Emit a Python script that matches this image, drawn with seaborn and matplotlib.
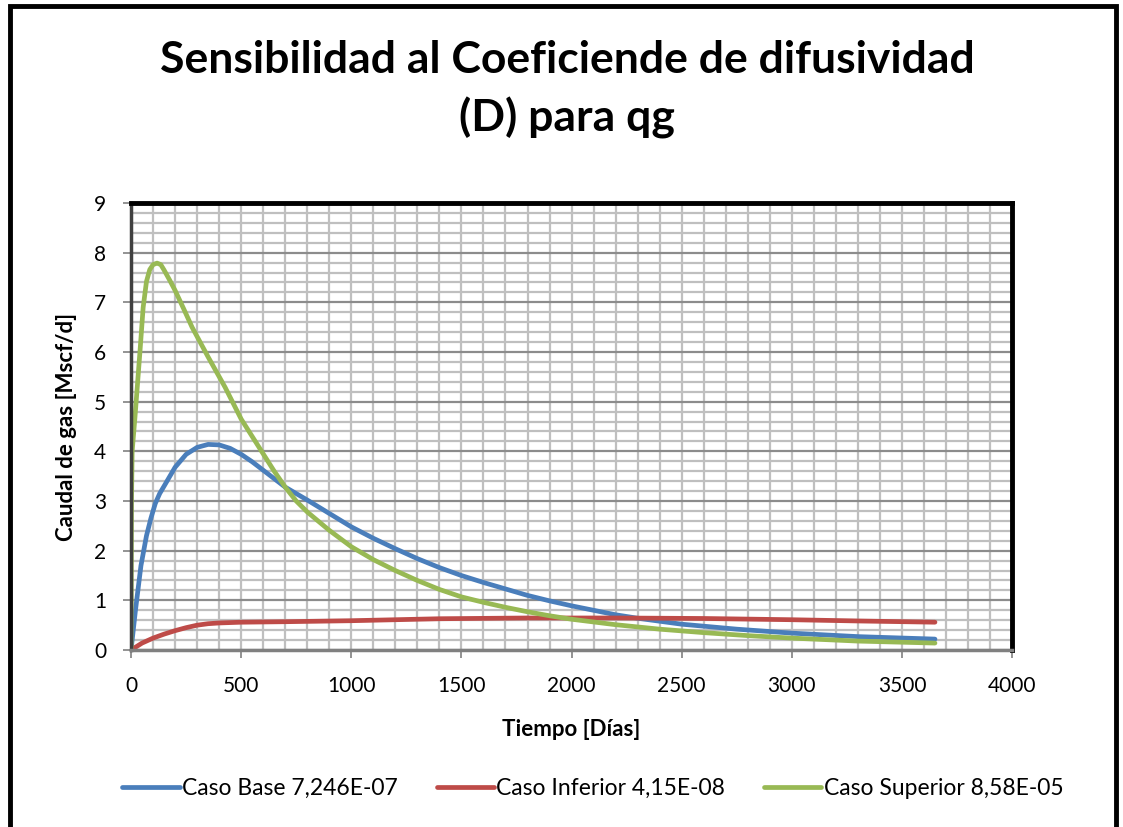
import pandas as pd
import matplotlib.pyplot as plt
import seaborn as sns
from matplotlib.ticker import MultipleLocator
from matplotlib.patches import Rectangle

# Caso Base 7,246E-07
base_days = [0, 20, 45, 70, 90, 110, 130, 150, 200, 250, 300, 350, 400, 450, 500, 550,
             600, 700, 800, 900, 1000, 1100, 1200, 1300, 1400, 1500, 1600, 1700, 1800,
             1900, 2000, 2100, 2200, 2300, 2400, 2500, 2750, 3000, 3300, 3650]
base_q = [0.0, 0.8, 1.7, 2.3, 2.65, 2.95, 3.15, 3.3, 3.68, 3.94, 4.08, 4.14, 4.13, 4.06,
          3.94, 3.79, 3.62, 3.28, 3.02, 2.75, 2.48, 2.25, 2.04, 1.84, 1.66, 1.5, 1.36,
          1.23, 1.1, 0.99, 0.89, 0.8, 0.71, 0.64, 0.58, 0.52, 0.42, 0.34, 0.27, 0.22]

# Caso Inferior 4,15E-08
inf_days = [0, 25, 50, 100, 150, 200, 250, 300, 350, 400, 500, 700, 1000, 1400, 1800,
            2200, 2600, 3000, 3300, 3650]
inf_q = [0.0, 0.07, 0.14, 0.24, 0.32, 0.39, 0.45, 0.5, 0.53, 0.545, 0.56, 0.57, 0.59,
         0.63, 0.645, 0.645, 0.635, 0.61, 0.585, 0.56]

# Caso Superior 8,58E-05
sup_days = [0, 2, 5, 18, 41, 55, 70, 85, 100, 118, 135, 150, 175, 200, 240, 277, 350,
            427, 500, 550, 600, 650, 700, 750, 800, 900, 1000, 1100, 1200, 1300, 1400,
            1500, 1600, 1700, 1800, 1900, 2000, 2200, 2400, 2600, 2800, 3000, 3300, 3650]
sup_q = [0.0, 3.0, 4.0, 4.7, 6.04, 6.9, 7.42, 7.66, 7.76, 7.79, 7.76, 7.65, 7.45, 7.24,
         6.86, 6.5, 5.9, 5.29, 4.65, 4.3, 3.95, 3.6, 3.28, 3.0, 2.78, 2.41, 2.08, 1.82,
         1.6, 1.4, 1.22, 1.07, 0.96, 0.86, 0.77, 0.69, 0.62, 0.51, 0.42, 0.35, 0.29,
         0.24, 0.18, 0.14]

labels = ["Caso Base 7,246E-07", "Caso Inferior 4,15E-08", "Caso Superior 8,58E-05"]
colors = ["#4A7EBB", "#BE4B48", "#98B954"]

frames = []
for lab, d, q in zip(labels, [base_days, inf_days, sup_days], [base_q, inf_q, sup_q]):
    frames.append(pd.DataFrame({"dias": d, "qg": q, "caso": lab}))
df = pd.concat(frames, ignore_index=True)

sns.set_style("white")
plt.rcParams['font.family'] = ['Lato', 'DejaVu Sans']
plt.rcParams['text.color'] = 'black'
plt.rcParams['axes.labelcolor'] = 'black'
plt.rcParams['xtick.color'] = 'black'
plt.rcParams['ytick.color'] = 'black'

fig = plt.figure(figsize=(11.23, 8.27), dpi=100)
ax = fig.add_axes([0.1167, 0.214, 0.7845, 0.5405])

sns.lineplot(data=df, x="dias", y="qg", hue="caso", palette=dict(zip(labels, colors)),
             hue_order=labels, lw=3.4, sort=False, estimator=None, ax=ax,
             solid_capstyle='round', solid_joinstyle='round')

ax.set_xlim(0, 4000)
ax.set_ylim(0, 9)
ax.xaxis.set_major_locator(MultipleLocator(500))
ax.xaxis.set_minor_locator(MultipleLocator(100))
ax.yaxis.set_major_locator(MultipleLocator(1))
ax.yaxis.set_minor_locator(MultipleLocator(0.2))

ax.grid(which='minor', color='#BFBFBF', lw=1.6)
ax.grid(which='major', axis='x', color='#BFBFBF', lw=1.6)
ax.grid(which='major', axis='y', color='#8C8C8C', lw=1.6)
ax.set_axisbelow(True)

ax.tick_params(which='major', direction='out', length=6, width=1.2, color='#808080',
               labelsize=15, left=True, bottom=True)
ax.tick_params(axis='x', which='major', pad=13)
ax.tick_params(axis='y', which='major', pad=12)
ax.tick_params(which='minor', length=0)

ax.spines['top'].set_color('black')
ax.spines['top'].set_linewidth(3.5)
ax.spines['right'].set_color('black')
ax.spines['right'].set_linewidth(3.5)
ax.spines['left'].set_color('#404040')
ax.spines['left'].set_linewidth(2.5)
ax.spines['bottom'].set_color('#808080')
ax.spines['bottom'].set_linewidth(2.5)

ax.set_xlabel("Tiempo [Días]", fontsize=16, fontweight='bold', labelpad=16)
ax.set_ylabel("Caudal de gas [Mscf/d]", fontsize=16, fontweight='bold', labelpad=12)

fig.text(0.505, 0.892, "Sensibilidad al Coeficiende de difusividad\n(D) para qg",
         ha='center', va='center', fontsize=32, fontweight='bold', linespacing=1.5)

ax.legend(loc='center', bbox_to_anchor=(0.528, 0.047), bbox_transform=fig.transFigure,
          ncol=3, frameon=False, fontsize=16.5, handlelength=2.5, handletextpad=0.1,
          columnspacing=1.7)

fig.patches.append(Rectangle((10 / 1123, -0.01), 1106 / 1123, 1.003, transform=fig.transFigure,
                             fill=False, edgecolor='black', lw=3.5))

plt.savefig("out.png", dpi=100)
plt.close()
